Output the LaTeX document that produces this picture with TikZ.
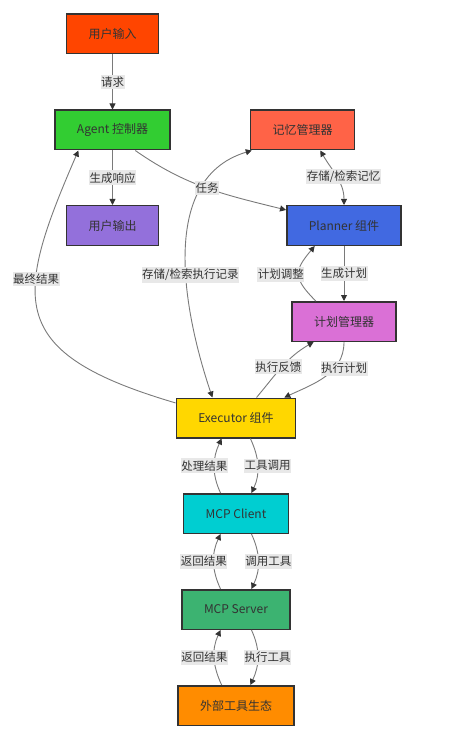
\documentclass[tikz,border=0pt]{standalone}
\usepackage{fontspec}
\setmainfont{Noto Sans CJK SC}
\usepackage{tikz}
\usetikzlibrary{arrows.meta,positioning,calc}

\definecolor{cinput}{HTML}{FF4500}
\definecolor{cagent}{HTML}{32CD32}
\definecolor{cmemory}{HTML}{FF6347}
\definecolor{coutput}{HTML}{9370DB}
\definecolor{cplanner}{HTML}{4169E1}
\definecolor{cplan}{HTML}{DA70D6}
\definecolor{cexec}{HTML}{FFD700}
\definecolor{cclient}{HTML}{00CED1}
\definecolor{cserver}{HTML}{3CB371}
\definecolor{ctools}{HTML}{FF8C00}
\definecolor{edgegray}{HTML}{7A7A7A}
\definecolor{tipgray}{HTML}{333333}
\definecolor{lblbg}{HTML}{E8E8E8}
\definecolor{txt}{HTML}{333333}

\begin{document}
\begin{tikzpicture}[
    x=1pt, y=-1pt,
    box/.style={draw=txt, line width=1.5pt, rectangle, minimum height=39.5pt, inner xsep=22pt, text=txt, font=\fontsize{12}{14}\selectfont},
    lbl/.style={fill=lblbg, text=txt, inner xsep=0.5pt, inner ysep=2pt, font=\fontsize{11.5}{13}\selectfont},
    arr/.style={draw=edgegray, line width=0.9pt, -{Triangle[length=6pt,width=6pt,color=tipgray]}},
    biarr/.style={draw=edgegray, line width=0.9pt, {Triangle[length=6pt,width=6pt,color=tipgray]}-{Triangle[length=6pt,width=6pt,color=tipgray]}},
]
\useasboundingbox (0,0) rectangle (448,735);

% Nodes
\node[box, fill=cinput] (input) at (112.5,34) {用户输入};
\node[box, fill=cagent] (agent) at (112.5,130) {Agent 控制器};
\node[box, fill=cmemory] (memory) at (302.5,130) {记忆管理器};
\node[box, fill=coutput] (output) at (112.5,225.5) {用户输出};
\node[box, fill=cplanner] (planner) at (344,225.5) {Planner 组件};
\node[box, fill=cplan] (plan) at (344,321.5) {计划管理器};
\node[box, fill=cexec] (exec) at (236,418) {Executor 组件};
\node[box, fill=cclient] (client) at (236,513.5) {MCP Client};
\node[box, fill=cserver] (server) at (236,609.5) {MCP Server};
\node[box, fill=ctools] (tools) at (236,705.5) {外部工具生态};

% Edges
\draw[biarr] (memory.202) .. controls +(-100,30) and +(-23,-68) .. node[lbl, pos=0.55, xshift=4pt]{存储/检索执行记录} (exec.139);
\draw[arr] (input) -- node[lbl]{请求} (agent);
\draw[arr] (agent) -- node[lbl]{生成响应} (output);
\draw[arr] (agent.-42) to[out=-35,in=166] node[lbl, pos=0.5]{任务} (planner.165);
\draw[biarr] (memory.-49) to[out=-60,in=90] node[lbl, xshift=7pt]{存储/检索记忆} (planner.north);
\draw[arr] (planner) -- node[lbl]{生成计划} (plan);
\draw[arr] (plan.144) to[out=135,in=-130,looseness=1.5] node[lbl, xshift=-18pt]{计划调整} (planner.215);
\draw[arr] (exec.45) to[out=50,in=210] node[lbl, xshift=-4pt]{执行反馈} (plan.214);
\draw[arr] (plan.south) to[out=-90,in=25] node[lbl, pos=0.35, xshift=10pt]{执行计划} (exec.23);
\draw[arr] (exec.166) .. controls +(-170,-50) and +(-65,150) .. node[lbl, pos=0.64]{最终结果} (agent.211);

% Executor <-> MCP <-> tools
\draw[arr] (exec.-55) to[out=-65,in=65] node[lbl, xshift=10pt]{工具调用} (client.53);
\draw[arr] (client.127) to[out=115,in=-115] node[lbl, xshift=-10pt]{处理结果} (exec.235);
\draw[arr] (client.-53) to[out=-65,in=65] node[lbl, xshift=10pt]{调用工具} (server.53);
\draw[arr] (server.127) to[out=115,in=-115] node[lbl, xshift=-10pt]{返回结果} (client.-127);
\draw[arr] (server.-53) to[out=-65,in=65] node[lbl, xshift=10pt]{执行工具} (tools.55);
\draw[arr] (tools.125) to[out=115,in=-115] node[lbl, xshift=-10pt]{返回结果} (server.-127);

\end{tikzpicture}
\end{document}
